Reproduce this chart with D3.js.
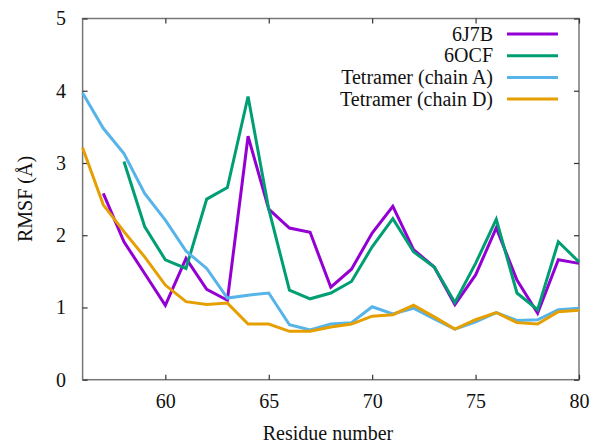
<!DOCTYPE html>
<html>
<head>
<meta charset="utf-8">
<script src="https://cdn.jsdelivr.net/npm/d3@7"></script>
<style>
  html, body { margin: 0; padding: 0; background: #fff; }
  #chart text { font-family: 'Liberation Serif', 'DejaVu Serif', 'Noto Serif', 'Times New Roman', Times, serif; fill: #111; }
</style>
</head>
<body>
<svg id="chart" width="596" height="447"></svg>
<script>
// Per-residue RMSF (Å)
const residues = d3.range(56, 81);
const rmsf6J7B = [null, 2.58, 1.91, 1.47, 1.03, 1.68, 1.25, 1.10, 3.37, 2.36, 2.10, 2.04,
                  1.28, 1.53, 2.03, 2.40, 1.80, 1.56, 1.04, 1.45, 2.10, 1.38, 0.92, 1.66, 1.61];
const rmsf6OCF = [null, null, 3.02, 2.12, 1.66, 1.54, 2.50, 2.66, 3.92, 2.36, 1.24, 1.12,
                  1.20, 1.36, 1.84, 2.23, 1.77, 1.56, 1.07, 1.61, 2.22, 1.20, 0.97, 1.91, 1.63];
const rmsfChainA = [3.97, 3.48, 3.13, 2.58, 2.21, 1.78, 1.54, 1.13, 1.17, 1.20, 0.76, 0.69,
                    0.77, 0.79, 1.01, 0.91, 0.99, 0.84, 0.70, 0.80, 0.93, 0.82, 0.83, 0.97, 0.99];
const rmsfChainD = [3.21, 2.42, 2.05, 1.70, 1.31, 1.08, 1.04, 1.06, 0.77, 0.77, 0.67, 0.67,
                    0.73, 0.77, 0.88, 0.90, 1.03, 0.87, 0.70, 0.83, 0.93, 0.79, 0.77, 0.94, 0.96];

const seriesNames = ["6J7B", "6OCF", "Tetramer (chain A)", "Tetramer (chain D)"];
const seriesValues = [rmsf6J7B, rmsf6OCF, rmsfChainA, rmsfChainD];
const seriesColors = ["#9400d3", "#009e73", "#56b4e9", "#e69f00"];

const xTicks = [60, 65, 70, 75, 80];
const yTicks = [0, 1, 2, 3, 4, 5];

const svg = d3.select("#chart");
const m = { left: 82.6, right: 17, top: 18.5, bottom: 67.3 };
const W = 596, H = 447;
const FONT = 20;
const x = d3.scaleLinear().domain([56, 80]).range([m.left, W - m.right]);
const y = d3.scaleLinear().domain([0, 5]).range([H - m.bottom, m.top]);

const axisColor = "#777";
const tickLen = 5;

// frame
svg.append("rect")
  .attr("x", x(56)).attr("y", y(5))
  .attr("width", x(80) - x(56)).attr("height", y(0) - y(5))
  .attr("fill", "none").attr("stroke", axisColor).attr("stroke-width", 1.5);

// inward ticks on all four sides, labels on bottom and left
const axisBottomG = svg.append("g").attr("transform", `translate(0,${y(0)})`)
  .call(d3.axisBottom(x).tickValues(xTicks).tickSize(-tickLen).tickPadding(14.5).tickFormat(d3.format("d")));
const axisTopG = svg.append("g").attr("transform", `translate(0,${y(5)})`)
  .call(d3.axisTop(x).tickValues(xTicks).tickSize(-tickLen).tickFormat(""));
const axisLeftG = svg.append("g").attr("transform", `translate(${x(56)},0)`)
  .call(d3.axisLeft(y).tickValues(yTicks).tickSize(-tickLen).tickPadding(16.5).tickFormat(d3.format("d")));
const axisRightG = svg.append("g").attr("transform", `translate(${x(80)},0)`)
  .call(d3.axisRight(y).tickValues(yTicks).tickSize(-tickLen).tickFormat(""));

[axisBottomG, axisTopG, axisLeftG, axisRightG].forEach(g => {
  g.attr("font-family", null).attr("font-size", null);
  g.select(".domain").remove();
  g.selectAll(".tick line").attr("stroke", "#333").attr("stroke-width", 1.2);
  g.selectAll("text").style("font-size", FONT + "px");
});

// series lines
const line = d3.line()
  .defined(d => d.v != null)
  .x(d => x(d.r))
  .y(d => y(d.v));

seriesValues.forEach((vals, i) => {
  const pts = residues.map((r, k) => ({ r, v: vals[k] }));
  svg.append("path")
    .datum(pts)
    .attr("d", line)
    .attr("fill", "none")
    .attr("stroke", seriesColors[i])
    .attr("stroke-width", 3)
    .attr("stroke-linejoin", "miter");
});

// legend
const legend = svg.append("g");
seriesNames.forEach((name, i) => {
  const ly = 34 + i * 21.7;
  legend.append("text")
    .attr("x", 493).attr("y", ly).attr("dy", "0.33em")
    .attr("text-anchor", "end").style("font-size", FONT + "px")
    .text(name);
  legend.append("line")
    .attr("x1", 507).attr("x2", 558).attr("y1", ly).attr("y2", ly)
    .attr("stroke", seriesColors[i]).attr("stroke-width", 3);
});

// axis titles
svg.append("text")
  .attr("x", 328).attr("y", 440)
  .attr("text-anchor", "middle").style("font-size", FONT + "px")
  .text("Residue number");
svg.append("text")
  .attr("transform", `translate(31.5,199) rotate(-90)`)
  .attr("text-anchor", "middle").style("font-size", FONT + "px")
  .text("RMSF (Å)");
</script>
</body>
</html>
